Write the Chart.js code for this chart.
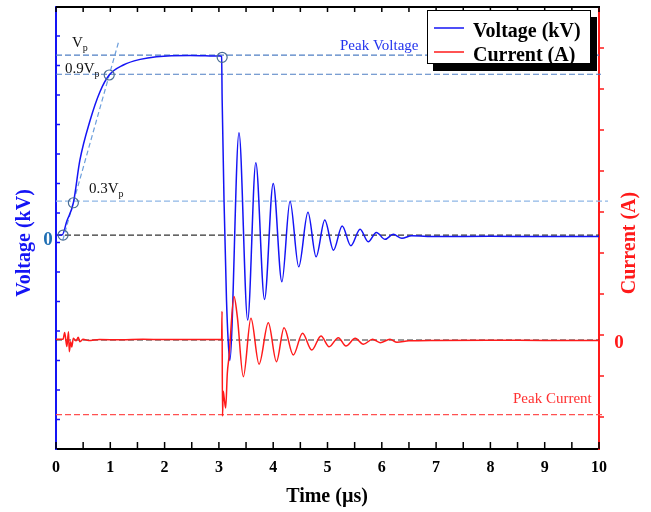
<!DOCTYPE html>
<html>
<head>
<meta charset="utf-8">
<script src="https://cdn.jsdelivr.net/npm/chart.js@4.4.1/dist/chart.umd.min.js"></script>
<style>
  html, body { margin: 0; padding: 0; background: #fff; }
  canvas { display: block; }
</style>
</head>
<body>
<canvas id="chartPulse" width="651" height="512"></canvas>
<script>
// voltage trace: time (us) / kV
var voltageTime = [0, 0.11, 0.2, 0.32, 0.44, 0.63, 0.81, 0.98, 1.24, 1.55,
  1.85, 2.47, 3.02, 3.05, 3.06, 3.094, 3.14, 3.17, 3.2, 3.37,
  3.53, 3.68, 3.84, 4.0, 4.16, 4.31, 4.47, 4.64, 4.79, 4.95,
  5.11, 5.27, 5.43, 5.6, 5.75, 5.9, 6.06, 6.21, 6.37, 6.55,
  7, 8, 9, 10];
var voltageKV = [0, 0, 0.95, 2.19, 5.08, 7.8, 9.72, 10.85, 11.53, 11.91,
  12.09, 12.18, 12.14, 12.1, 9.15, 2.4, -4.4, -7.1, -8.5, 6.94,
  -5.76, 4.9, -4.36, 3.5, -3.17, 2.3, -2.15, 1.54, -1.47, 1.02,
  -1.02, 0.61, -0.72, 0.39, -0.45, 0.18, -0.29, 0.05, -0.22, -0.05,
  -0.1, -0.08, -0.1, -0.1];

// current trace: time (us) / A
var currentTime = [0, 0.13, 0.16, 0.2, 0.23, 0.245, 0.27, 0.29, 0.32, 0.37,
  0.41, 0.44, 0.5, 0.6, 0.8, 1.2, 1.6, 2.0, 2.5, 3.0,
  3.05, 3.058, 3.066, 3.08, 3.094, 3.125, 3.155, 3.186, 3.278, 3.339,
  3.45, 3.59, 3.74, 3.91, 4.06, 4.2, 4.37, 4.54, 4.71, 4.88,
  5.03, 5.2, 5.34, 5.51, 5.66, 5.83, 5.97, 6.15, 6.28, 6.5,
  7, 8, 9, 10];
var currentA = [0.15, 0.15, 1.8, -1.6, 2.0, -2.85, -0.4, -1.7, 0.4, -0.2,
  0.65, -0.4, 0.2, -0.15, 0.1, 0.05, 0.15, 0.1, 0.12, 0.12,
  0.1, 7.0, -18.6, -12.5, -13.8, -16.6, -8.1, -4.1, 10.6, 5.7,
  -8.95, 5.3, -5.9, 4.2, -5.3, 3.0, -3.66, 1.63, -2.44, 0.98,
  -1.63, 0.57, -1.46, 0.4, -1.05, 0.17, -0.65, 0.17, -0.55, -0.2,
  -0.1, -0.05, -0.1, -0.1];

var timeTicks = [0, 1, 2, 3, 4, 5, 6, 7, 8, 9, 10];
var timeMinorTicks = [0, 0.5, 1, 1.5, 2, 2.5, 3, 3.5, 4, 4.5, 5, 5.5, 6, 6.5, 7, 7.5, 8, 8.5, 9, 9.5, 10];
var voltageMinorTicks = [-12.5, -10.5, -8.5, -6.5, -4.5, -2.5, -0.5, 1.5, 3.5, 5.5, 7.5, 9.5, 11.5, 13.5];
var currentMinorTicks = [-18.8, -8.8, 1.2, 11.2, 21.2, 31.2, 41.2, 51.2, 61.2, 71.2];

// reference levels (kV) and their names
var voltageLevels = [12.2, 10.9, 2.3];
var voltageLevelNames = ['V', '0.9V', '0.3V'];
var peakCurrent = -18.2;

// circled points on the trace and the rise tangent
var markTime = [0.13, 0.32, 0.98, 3.06];
var markKV = [0, 2.19, 10.85, 12.05];
var tangentTime = [0.125, 1.162];
var tangentKV = [-0.34, 13.22];

var SERIF = '"Liberation Serif", "Times New Roman", serif';

function pairs(xs, ys) {
  return xs.map(function (x, i) { return { x: x, y: ys[i] }; });
}

function hline(ctx, x0, x1, y, color, dash) {
  ctx.save();
  ctx.strokeStyle = color;
  ctx.lineWidth = 1.2;
  ctx.setLineDash(dash || [6, 3]);
  ctx.beginPath();
  ctx.moveTo(x0, y);
  ctx.lineTo(x1, y);
  ctx.stroke();
  ctx.restore();
}

function subText(ctx, base, sub, x, y) {
  ctx.font = '15px ' + SERIF;
  ctx.textAlign = 'left';
  ctx.textBaseline = 'alphabetic';
  ctx.fillText(base, x, y);
  var w = ctx.measureText(base).width;
  ctx.font = '10px ' + SERIF;
  ctx.fillText(sub, x + w, y + 4);
}

var decorations = {
  id: 'decorations',
  beforeDatasetsDraw: function (chart) {
    var ctx = chart.ctx, a = chart.chartArea;
    var sx = chart.scales.x, sv = chart.scales.yV, si = chart.scales.yI;

    hline(ctx, a.left, a.right, sv.getPixelForValue(voltageLevels[0]), '#4f7fc4');
    hline(ctx, a.left, a.right + 2, sv.getPixelForValue(voltageLevels[1]), '#4f7fc4');
    hline(ctx, a.left, a.right + 9, sv.getPixelForValue(voltageLevels[2]), '#8fb7e6');
    hline(ctx, a.left, a.right, sv.getPixelForValue(0), '#333');
    hline(ctx, a.left, a.right, si.getPixelForValue(0), '#333');
    hline(ctx, a.left, a.right + 6, si.getPixelForValue(peakCurrent), '#ff5050');

    // tangent through the 30% and 90% points
    ctx.save();
    ctx.strokeStyle = '#6d9fdc';
    ctx.lineWidth = 1.2;
    ctx.setLineDash([5, 3]);
    ctx.beginPath();
    ctx.moveTo(sx.getPixelForValue(tangentTime[0]), sv.getPixelForValue(tangentKV[0]));
    ctx.lineTo(sx.getPixelForValue(tangentTime[1]), sv.getPixelForValue(tangentKV[1]));
    ctx.stroke();
    ctx.restore();
  },
  afterDatasetsDraw: function (chart) {
    var ctx = chart.ctx, a = chart.chartArea;
    var sx = chart.scales.x, sv = chart.scales.yV, si = chart.scales.yI;

    // circled points
    ctx.save();
    ctx.strokeStyle = '#4a6d94';
    ctx.lineWidth = 1.2;
    markTime.forEach(function (t, i) {
      ctx.beginPath();
      ctx.arc(sx.getPixelForValue(t), sv.getPixelForValue(markKV[i]), 5, 0, Math.PI * 2);
      ctx.stroke();
    });
    ctx.restore();

    // frame: top border and inward ticks
    ctx.save();
    ctx.strokeStyle = '#000';
    ctx.lineWidth = 2;
    ctx.beginPath();
    ctx.moveTo(a.left, a.top);
    ctx.lineTo(a.right + 1, a.top);
    ctx.stroke();
    ctx.lineWidth = 1.5;
    ctx.beginPath();
    timeMinorTicks.forEach(function (t) {
      var px = sx.getPixelForValue(t);
      ctx.moveTo(px, a.bottom);
      ctx.lineTo(px, a.bottom - 7);
      ctx.moveTo(px, a.top);
      ctx.lineTo(px, a.top + 5);
    });
    ctx.stroke();
    ctx.strokeStyle = '#1414f5';
    ctx.beginPath();
    voltageMinorTicks.forEach(function (v) {
      var py = sv.getPixelForValue(v);
      ctx.moveTo(a.left, py);
      ctx.lineTo(a.left + 4, py);
    });
    ctx.stroke();
    ctx.strokeStyle = '#ff1a1a';
    ctx.beginPath();
    currentMinorTicks.forEach(function (v) {
      var py = si.getPixelForValue(v);
      ctx.moveTo(a.right, py);
      ctx.lineTo(a.right + 5, py);
    });
    ctx.stroke();
    ctx.restore();

    // level names
    ctx.save();
    ctx.fillStyle = '#111';
    subText(ctx, voltageLevelNames[0], 'p', 72, 47);
    subText(ctx, voltageLevelNames[1], 'p', 65, 73);
    subText(ctx, voltageLevelNames[2], 'p', 89, 193);
    ctx.font = '15px ' + SERIF;
    ctx.fillStyle = '#2233ee';
    ctx.fillText('Peak Voltage', 340, 50);
    ctx.fillStyle = '#ff3030';
    ctx.fillText('Peak Current', 513, 403);

    // zero labels
    ctx.font = 'bold 19px ' + SERIF;
    ctx.textAlign = 'center';
    ctx.textBaseline = 'middle';
    ctx.fillStyle = '#1f6fb4';
    ctx.fillText('0', 48, sv.getPixelForValue(0) + 5);
    ctx.fillStyle = '#ff1a1a';
    ctx.fillText('0', 619, si.getPixelForValue(0) + 3);

    // axis titles
    ctx.font = 'bold 20px ' + SERIF;
    ctx.fillStyle = '#000';
    ctx.fillText('Time (\u00b5s)', 327, 497);
    ctx.save();
    ctx.translate(25, 243);
    ctx.rotate(-Math.PI / 2);
    ctx.fillStyle = '#1414f5';
    ctx.fillText('Voltage (kV)', 0, 0);
    ctx.restore();
    ctx.save();
    ctx.translate(630, 243);
    ctx.rotate(-Math.PI / 2);
    ctx.fillStyle = '#ff1a1a';
    ctx.fillText('Current (A)', 0, 0);
    ctx.restore();
    ctx.restore();

    // legend box with drop shadow
    ctx.save();
    ctx.fillStyle = '#000';
    ctx.fillRect(433, 17, 164, 54);
    ctx.fillStyle = '#fff';
    ctx.fillRect(427, 10, 164, 54);
    ctx.strokeStyle = '#000';
    ctx.lineWidth = 1;
    ctx.strokeRect(427.5, 10.5, 163, 53);
    ctx.font = 'bold 20px ' + SERIF;
    ctx.textAlign = 'left';
    ctx.textBaseline = 'alphabetic';
    chart.data.datasets.forEach(function (ds, i) {
      var y = 28 + i * 24;
      ctx.strokeStyle = ds.borderColor;
      ctx.lineWidth = 1.5;
      ctx.beginPath();
      ctx.moveTo(434, y);
      ctx.lineTo(464, y);
      ctx.stroke();
      ctx.fillStyle = '#000';
      ctx.fillText(ds.label, 473, y + 9);
    });
    ctx.restore();
  }
};

var ctx = document.getElementById('chartPulse').getContext('2d');
var chart = new Chart(ctx, {
  type: 'line',
  data: {
    datasets: [{
      label: 'Voltage (kV)',
      data: pairs(voltageTime, voltageKV),
      yAxisID: 'yV',
      borderColor: '#1414f5',
      borderWidth: 1.5,
      pointRadius: 0,
      cubicInterpolationMode: 'monotone',
      order: 1
    }, {
      label: 'Current (A)',
      data: pairs(currentTime, currentA),
      yAxisID: 'yI',
      borderColor: '#ff1a1a',
      borderWidth: 1.5,
      pointRadius: 0,
      cubicInterpolationMode: 'monotone',
      order: 0
    }]
  },
  options: {
    responsive: false,
    animation: false,
    layout: { padding: { top: 7, left: 0, right: 0, bottom: 0 } },
    plugins: { legend: { display: false }, tooltip: { enabled: false } },
    scales: {
      x: {
        type: 'linear',
        min: 0,
        max: 10,
        afterBuildTicks: function (s) { s.ticks = timeTicks.map(function (v) { return { value: v }; }); },
        afterFit: function (s) { s.height = 63; },
        ticks: {
          autoSkip: false,
          maxRotation: 0,
          padding: 9,
          color: '#000',
          font: { family: SERIF, size: 16, weight: 'bold' }
        },
        grid: { drawOnChartArea: false, drawTicks: false },
        border: { color: '#000', width: 2 }
      },
      yV: {
        type: 'linear',
        position: 'left',
        min: -14.5,
        max: 15.46,
        afterFit: function (s) { s.width = 56; },
        ticks: { display: false },
        grid: { drawOnChartArea: false, drawTicks: false },
        border: { color: '#1414f5', width: 2 }
      },
      yI: {
        type: 'linear',
        position: 'right',
        min: -26.59,
        max: 81.22,
        afterFit: function (s) { s.width = 52; },
        ticks: { display: false },
        grid: { drawOnChartArea: false, drawTicks: false },
        border: { color: '#ff1a1a', width: 2 }
      }
    }
  },
  plugins: [decorations]
});
</script>
</body>
</html>
